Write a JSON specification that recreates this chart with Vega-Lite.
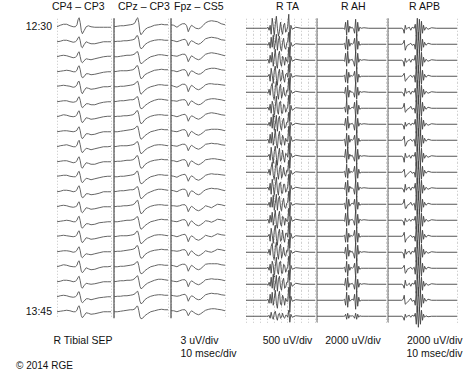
{
"$schema":"https://vega.github.io/schema/vega-lite/v6.json",
"padding":{"left":16,"top":1.25,"right":5,"bottom":3},
"datasets":{
"tgrid":[
{"c":"CP4","t":[0,6,12,18,24,30,34,37,39,41,43,45,47,50,54,58,63,70,78,86,94,100]},
{"c":"CPz","t":[0,6,12,18,24,30,35,39,42,44,46,48,50,53,57,62,68,75,82,88,94,100]},
{"c":"Fpz","t":[0,5,11,16,21,26,29,32,35,38,42,46,51,55,60,64,70,75,81,86,93,100]},
{"c":"TA","t":[0,30,32,33.5,35,36.5,38,39.5,41,42.5,44,45.5,47,48.5,50,51.5,53,54.5,56,57.5,59,60.5,62,63.5,65,67,72,80,100]},
{"c":"AH","t":[0,38,40,41.5,43,44.5,46,47.5,49,51,53,54.5,56,57.5,59,60.5,62,64,68,75,100]},
{"c":"APB","t":[0,20,22,23.5,25,26.5,28,31,33,35,38,39.5,41,42.5,44,45.5,47,48.5,50,51.5,53,55,58,63,70,100]}
],
"traces":[
{"c":"CP4","r":1,"lab":"12:30","v":[0,1.5,2.5,2.5,1,0,0,2,7,9,4,-4,-7,-4,0,1,0,-0.5,-0.5,-0.5,-0.5,-0.5]},
{"c":"CP4","r":2,"v":[0,0.5,1.5,1.5,0.5,-0.5,0,1.5,4,5,1,-5,-6,-3,0,-1,-2,-2,-1,0,0,0]},
{"c":"CP4","r":3,"v":[0,1,1.5,1,0,-1,-0.5,1,4,5,0,-5,-6,-4,-2,-2.5,-3,-2,-1,0,0.5,0.5]},
{"c":"CP4","r":4,"v":[0,0.5,1,1.5,1,0,0,1.5,5,6,2,-4,-6,-5,-2,-2,-3,-2.5,-1.5,-0.5,0,0]},
{"c":"CP4","r":5,"v":[0.5,1,1.5,1,0.5,-0.5,0,2,5,5.5,1,-5,-7,-4,-1,-1.5,-2.5,-2,-1,0,0,0.5]},
{"c":"CP4","r":6,"v":[0,0.5,1,1,0,-0.5,0,1,4,5,1.5,-4,-6,-4.5,-2,-2,-3,-3,-1.5,-0.5,0,0]},
{"c":"CP4","r":7,"v":[0,1,2,1.5,0.5,0,0.5,2,5,6,2,-4,-6,-4,-1,-1.5,-2.5,-2,-1,0,0.5,0.5]},
{"c":"CP4","r":8,"v":[0,0.5,1,1,0.5,0,0.5,1.5,4,5,1,-5,-7,-5,-2,-2,-3,-2.5,-1,0,0,0]},
{"c":"CP4","r":9,"v":[0,1,1.5,2,1,0,0,1.5,5,6.5,2,-4,-6,-4,-1.5,-2,-3,-2,-1,0,0,0.5]},
{"c":"CP4","r":10,"v":[0,0.5,1,1,0,-1,-0.5,1,4,5,1,-5,-6.5,-4,-1,-1.5,-2.5,-2.5,-1,0,0,0]},
{"c":"CP4","r":11,"v":[0.5,1,1.5,1.5,0.5,0,0,1.5,4.5,5.5,1.5,-4.5,-6,-4,-1.5,-2,-3,-2,-1,0,0.5,0.5]},
{"c":"CP4","r":12,"v":[0,0.5,1.5,1.5,1,0,0.5,2,5,6,2,-4,-6,-5,-2,-2,-3,-2.5,-1.5,0,0,0]},
{"c":"CP4","r":13,"v":[0,1,1.5,1,0,-0.5,0,1,4,5,1,-5,-6,-4,-1,-1.5,-2.5,-2,-1,0,0,0]},
{"c":"CP4","r":14,"v":[0,0.5,1,1.5,1,0,0,1.5,4.5,5.5,1,-5,-6.5,-4.5,-2,-2,-3,-2.5,-1,-0.5,0,0]},
{"c":"CP4","r":15,"v":[0.5,1,1.5,1,0.5,0,0.5,2,5,6,2,-4,-6,-4,-1,-1.5,-2.5,-2,-1,0,0.5,0.5]},
{"c":"CP4","r":16,"v":[0,0.5,1,1,0.5,-0.5,0,1.5,4,5,1,-5,-6,-4,-2,-2.5,-3,-2,-1,0,0,0]},
{"c":"CP4","r":17,"v":[0,1,2,1.5,0.5,0,0,1.5,5,6,1.5,-4.5,-6,-4,-1,-2,-3,-2.5,-1,0,0,0.5]},
{"c":"CP4","r":18,"v":[0,0.5,1.5,1.5,1,0,0.5,2,4.5,5.5,1,-5,-6.5,-4,-1.5,-2,-2.5,-2,-1,0,0,0]},
{"c":"CP4","r":19,"v":[0,1,1.5,1,0,-0.5,0,1.5,4.5,5,1,-4.5,-6,-4.5,-2,-2,-3,-2,-1,-0.5,0,0]},
{"c":"CP4","r":20,"lab":"13:45","v":[0,0.5,1,1.5,1,0,0,1.5,5,6,2,-4,-6,-4,-1,-1.5,-2.5,-2,-1,0,0,0]},
{"c":"CPz","r":1,"v":[0,0.5,1,1,1.5,2,2.5,4,8,9,4,-5,-8,-6,-3,-1,0,1.5,2,2.5,2,2]},
{"c":"CPz","r":2,"v":[0,0.5,0.5,1,1,1.5,2,3,6,6,2,-5,-7,-6,-3,-1,0.5,1.5,2,2,1.5,1.5]},
{"c":"CPz","r":3,"v":[0,0,0.5,1,1.5,1.5,2,3,5,5,1,-5,-7,-6,-4,-2,0,1,2,2,1.5,1]},
{"c":"CPz","r":4,"v":[0,0.5,1,1,1,1.5,2,3.5,6,6,2,-4,-7,-6,-3,-1.5,0,1.5,2,2.5,2,2]},
{"c":"CPz","r":5,"v":[0,0,0.5,0.5,1,1.5,2,3,5,5.5,1.5,-5,-7.5,-6,-3.5,-1.5,0,1,2,2,1.5,1.5]},
{"c":"CPz","r":6,"v":[0,0.5,1,1,1.5,2,2,3,5,5,1,-5,-7,-6.5,-4,-2,0,1.5,2.5,2.5,2,1.5]},
{"c":"CPz","r":7,"v":[0,0.5,0.5,1,1,1.5,2,3.5,6,6,2,-4.5,-7,-6,-3,-1,0.5,1.5,2,2,1.5,1.5]},
{"c":"CPz","r":8,"v":[0,0,0.5,1,1.5,2,2.5,3.5,5.5,5.5,1,-5,-7.5,-6.5,-4,-2,0,1,2,2.5,2,2]},
{"c":"CPz","r":9,"v":[0,0.5,1,1,1,1.5,2,3,5,5,1.5,-4.5,-7,-6,-3.5,-1.5,0,1.5,2,2,1.5,1]},
{"c":"CPz","r":10,"v":[0,0.5,0.5,1,1.5,1.5,2,3.5,6,6,2,-4,-6.5,-6,-3,-1,0.5,1.5,2,2.5,2,2]},
{"c":"CPz","r":11,"v":[0,0,0.5,0.5,1,1.5,2,3,5.5,5.5,1,-5,-7,-6.5,-4,-2,0,1,2,2,1.5,1.5]},
{"c":"CPz","r":12,"v":[0,0.5,1,1,1.5,2,2,3,5,5,1.5,-4.5,-7,-6,-3.5,-1.5,0,1.5,2.5,2.5,2,1.5]},
{"c":"CPz","r":13,"v":[0,0.5,0.5,1,1,1.5,2,3.5,6,6.5,2,-4,-7,-6,-3,-1,0.5,1.5,2,2,1.5,1.5]},
{"c":"CPz","r":14,"v":[0,0,0.5,1,1.5,1.5,2,3,5,5,1,-5,-7.5,-6.5,-4,-2,0,1,2,2.5,2,2]},
{"c":"CPz","r":15,"v":[0,0.5,1,1,1,1.5,2,3,5.5,5.5,1.5,-4.5,-7,-6,-3.5,-1.5,0,1.5,2,2,1.5,1]},
{"c":"CPz","r":16,"v":[0,0.5,0.5,1,1.5,2,2.5,3.5,6,6,2,-4,-6.5,-6,-3,-1,0.5,1.5,2,2.5,2,2]},
{"c":"CPz","r":17,"v":[0,0,0.5,0.5,1,1.5,2,3,5,5,1,-5,-7,-6.5,-4,-2,0,1,2,2,1.5,1.5]},
{"c":"CPz","r":18,"v":[0,0.5,1,1,1.5,1.5,2,3.5,5.5,6,1.5,-4.5,-7,-6,-3.5,-1.5,0,1.5,2.5,2.5,2,1.5]},
{"c":"CPz","r":19,"v":[0,0.5,0.5,1,1,1.5,2,3,5,5.5,1.5,-4.5,-7,-6,-3,-1,0.5,1.5,2,2,1.5,1.5]},
{"c":"CPz","r":20,"v":[0,0,0.5,1,1.5,2,2,3,5.5,5.5,1,-5,-7,-6.5,-4,-2,0,1,2,2.5,2,2]},
{"c":"Fpz","r":1,"v":[2,1.5,-0.5,1.5,3,3,1,-5,-1,1.5,0,-1.5,-2,-1,1.5,4,5.5,6,5.5,5,3,2]},
{"c":"Fpz","r":2,"v":[1.5,1,0,1,2,2.5,0.5,-4,-0.5,1,0,-1.5,-2.5,-1.5,1,3,4,4.5,4,3.5,2,1.5]},
{"c":"Fpz","r":3,"v":[1.5,1,0.5,1.5,2.5,2.5,0,-5,-1.5,1,-0.5,-2,-3,-2,0.5,2.5,3.5,4,3.5,3,2,1]},
{"c":"Fpz","r":4,"v":[1,1,0,1,2,2,0,-4.5,-1,1,0,-1.5,-2.5,-2,0,2,3,3.5,3.5,3,2,1.5]},
{"c":"Fpz","r":5,"v":[1.5,0.5,-0.5,1,2.5,2.5,0.5,-5,-1,1.5,0,-2,-3,-2,0,2,3,3,2.5,2.5,2,1.5]},
{"c":"Fpz","r":6,"v":[1,1,0.5,1.5,2,2,0,-4,-1,1,-0.5,-2,-3,-2.5,-0.5,1.5,2.5,3,3,2.5,2,1]},
{"c":"Fpz","r":7,"v":[1.5,1,0,1,2,2.5,0.5,-4.5,-1,1,0,-1.5,-2.5,-1.5,0.5,2.5,3.5,4,3.5,3,2,1.5]},
{"c":"Fpz","r":8,"v":[1,0.5,0,1,2,2,0,-5,-1.5,0.5,-1,-2.5,-3.5,-2.5,-0.5,1.5,2,2.5,2.5,2.5,2,1]},
{"c":"Fpz","r":9,"v":[1.5,1,0.5,1.5,2.5,2.5,0.5,-4,-0.5,1.5,0,-1.5,-2.5,-1.5,0.5,2.5,3,3.5,3,3,2,1.5]},
{"c":"Fpz","r":10,"v":[1,1,0,1,2,2,0,-5,-1,1,-0.5,-2,-3,-2,0,2,2.5,3,3,2.5,2,1]},
{"c":"Fpz","r":11,"v":[1,0.5,-0.5,1,2,2.5,0,-4.5,-1,1,-0.5,-2.5,-3.5,-2.5,-0.5,1.5,2.5,3,2.5,2.5,2,1.5]},
{"c":"Fpz","r":12,"v":[1.5,1,0,1.5,2.5,2.5,0.5,-5,-1,1,0,-2,-3,-2,0.5,2,3,3.5,3,3,2,1]},
{"c":"Fpz","r":13,"v":[1,1,0.5,1,2,2,0,-5,-1.5,0.5,-1,-3,-4,-3,-1,1,0,-1,1,2.5,2,1]},
{"c":"Fpz","r":14,"v":[1,0.5,0,1,2,2,0,-4.5,-1,1,-1,-3,-4,-3,-1,1,0.5,-0.5,1,2.5,2,1]},
{"c":"Fpz","r":15,"v":[1.5,1,0,1,2,2.5,0,-5,-1,1,-0.5,-2.5,-3.5,-2.5,-0.5,1.5,0.5,0,1.5,3,2,1.5]},
{"c":"Fpz","r":16,"v":[1,1,0.5,1,2,2,0,-4,-1,1,-1,-3,-4,-3,-1,1,0,-0.5,1,2.5,2,1]},
{"c":"Fpz","r":17,"v":[1.5,1,0,1.5,2.5,2.5,0.5,-4.5,-1,1.5,0,-2,-3,-2,0.5,2.5,3,3,3,3,2,1.5]},
{"c":"Fpz","r":18,"v":[1,0.5,0,1,2,2,0,-5,-1,1,-0.5,-2,-3,-2,0,2,2.5,3,2.5,2.5,2,1]},
{"c":"Fpz","r":19,"v":[1.5,1,0.5,1,2,2.5,0.5,-4.5,-1,1,0,-2,-3,-2.5,0,2,3,3.5,3,3,2,1.5]},
{"c":"Fpz","r":20,"v":[1,1,0,1,2,2,0,-4,-1,1,-0.5,-2,-3,-2,0,1.5,2.5,3,3,2.5,2,1]},
{"c":"TA","r":1,"v":[0,0,1,-2,3,-6,10,2,-8,4,12,0,-8,-3,6,-2,-6,3,5,-4,-2,2,14,-14,3,-1,1,0,0]},
{"c":"TA","r":2,"v":[0,0,-1,2,-4,7,-3,9,-5,1,10,-6,4,8,-4,-7,2,6,-3,-5,1,3,12,-13,2,-2,0.5,0,0]},
{"c":"TA","r":3,"v":[0,0,1,-3,5,-2,8,-6,3,11,-4,-8,5,9,-3,-6,4,2,-5,3,-1,-2,13,-12,4,-1,1,0,0]},
{"c":"TA","r":4,"v":[0,0,0,2,-5,8,1,-7,6,10,-2,-9,3,7,-5,-3,6,-2,-6,2,3,-1,12,-14,3,-1,0.5,0,0]},
{"c":"TA","r":5,"v":[0,0,-1,3,-3,6,9,-4,-8,5,11,-1,-7,4,8,-6,-2,5,-3,-4,2,1,14,-12,2,-1,1,0,0]},
{"c":"TA","r":6,"v":[0,0,1,-2,4,-5,7,3,-9,2,12,-3,-6,6,7,-5,-5,4,3,-4,-1,2,13,-13,3,-2,0.5,0,0]},
{"c":"TA","r":7,"v":[0,0,-1,2,-2,7,-4,10,-6,0,9,-7,5,8,-3,-6,3,6,-4,-3,2,2,12,-12,2,-1,1,0,0]},
{"c":"TA","r":8,"v":[0,0,1,-3,6,-3,8,-5,2,11,-3,-8,4,9,-4,-5,5,2,-5,2,-1,-1,14,-14,4,-1,0.5,0,0]},
{"c":"TA","r":9,"v":[0,0,0,2,-4,9,0,-7,5,10,-1,-9,2,8,-5,-3,6,-1,-6,3,2,-1,13,-12,3,-1,1,0,0]},
{"c":"TA","r":10,"v":[0,0,-1,3,-3,5,10,-3,-8,4,12,0,-7,3,7,-6,-3,5,-2,-4,2,1,12,-13,2,-2,0.5,0,0]},
{"c":"TA","r":11,"v":[0,0,1,-2,5,-6,9,2,-8,3,11,-2,-7,5,6,-5,-5,4,4,-4,-2,2,14,-13,3,-1,1,0,0]},
{"c":"TA","r":12,"v":[0,0,-1,2,-3,7,-3,9,-6,1,10,-6,5,8,-3,-7,2,6,-3,-4,1,2,13,-12,2,-1,0.5,0,0]},
{"c":"TA","r":13,"v":[0,0,1,-3,5,-2,8,-5,3,10,-4,-8,4,9,-4,-6,4,3,-5,2,-1,-1,12,-14,4,-1,1,0,0]},
{"c":"TA","r":14,"v":[0,0,0,2,-5,8,1,-7,6,11,-2,-9,3,7,-5,-4,6,-2,-6,3,3,-1,14,-12,3,-2,0.5,0,0]},
{"c":"TA","r":15,"v":[0,0,-1,3,-3,6,9,-4,-8,5,10,-1,-7,4,8,-6,-2,5,-3,-4,2,1,13,-13,2,-1,1,0,0]},
{"c":"TA","r":16,"v":[0,0,1,-2,4,-5,7,3,-9,2,11,-3,-6,6,7,-5,-5,4,3,-4,-1,2,12,-12,3,-1,0.5,0,0]},
{"c":"TA","r":17,"v":[0,0,-1,2,-2,7,-4,10,-6,0,9,-7,5,8,-3,-6,3,6,-4,-3,2,2,14,-14,2,-2,1,0,0]},
{"c":"TA","r":18,"v":[0,0,1,-3,6,-3,8,-5,2,10,-3,-8,4,9,-4,-5,5,2,-5,2,-1,-1,13,-12,4,-1,0.5,0,0]},
{"c":"TA","r":19,"v":[0,0,0,1,-2,4,-1,-3,3,5,-1,-4,2,3,-2,-1,3,-1,-2,1,1,-1,6,-6,2,-1,0.5,0,0]},
{"c":"AH","r":1,"v":[0,0,-1,6,-7,8,-4,2,0,1,-1,-5,9,-8,6,-3,1,0,0.5,0,0]},
{"c":"AH","r":2,"v":[0,0,1,-5,8,-6,5,-2,1,0,1,6,-9,10,-5,3,-1,0,0,0,0]},
{"c":"AH","r":3,"v":[0,0,-1,7,-6,9,-3,1,0,1,-2,-6,8,-9,7,-2,1,0,0.5,0,0]},
{"c":"AH","r":4,"v":[0,0,1,-6,7,-7,4,-1,1,0,1,5,-8,9,-6,2,-1,0,0,0,0]},
{"c":"AH","r":5,"v":[0,0,-1,5,-8,7,-5,2,0,0.5,-1,-5,10,-7,5,-3,1,0,0.5,0,0]},
{"c":"AH","r":6,"v":[0,0,1,-4,8,-6,3,-1,0,1,0,6,-9,8,-6,3,-1,0,0,0,0]},
{"c":"AH","r":7,"v":[0,0,-1,6,-6,8,-4,1,0,1,-1,-6,9,-9,6,-2,1,0,0.5,0,0]},
{"c":"AH","r":8,"v":[0,0,1,-6,7,-8,5,-2,1,0,1,5,-8,10,-5,2,-1,0,0,0,0]},
{"c":"AH","r":9,"v":[0,0,-1,7,-7,9,-3,2,0,1,-2,-5,9,-8,7,-3,1,0,0.5,0,0]},
{"c":"AH","r":10,"v":[0,0,1,-5,8,-6,4,-1,1,0,1,6,-10,9,-6,3,-1,0,0,0,0]},
{"c":"AH","r":11,"v":[0,0,-1,6,-8,8,-4,2,0,0.5,-1,-6,8,-9,6,-2,1,0,0.5,0,0]},
{"c":"AH","r":12,"v":[0,0,1,-5,7,-7,5,-2,0,1,0,5,-9,8,-5,2,-1,0,0,0,0]},
{"c":"AH","r":13,"v":[0,0,-1,7,-6,9,-5,1,0,1,-1,-5,10,-8,6,-3,1,0,0.5,0,0]},
{"c":"AH","r":14,"v":[0,0,1,-6,8,-6,3,-1,1,0,1,6,-8,9,-6,3,-1,0,0,0,0]},
{"c":"AH","r":15,"v":[0,0,-1,5,-7,8,-4,2,0,1,-2,-6,9,-9,7,-2,1,0,0.5,0,0]},
{"c":"AH","r":16,"v":[0,0,1,-4,7,-8,4,-2,1,0,1,5,-9,10,-5,2,-1,0,0,0,0]},
{"c":"AH","r":17,"v":[0,0,-1,6,-6,7,-3,1,0,1,-1,-5,8,-8,5,-3,1,0,0.5,0,0]},
{"c":"AH","r":18,"v":[0,0,1,-5,8,-7,5,-1,0,1,0,6,-9,9,-6,3,-1,0,0,0,0]},
{"c":"AH","r":19,"v":[0,0,0,2,-3,3,-2,1,0,0.5,0,-2,3,-3,2,-1,0.5,0,0,0,0]},
{"c":"APB","r":1,"v":[0,0,-1,-5,3,-1,0,1,-2,1,0,4,-8,10,-12,9,-10,7,-5,3,-2,1,-1,0.5,0,0]},
{"c":"APB","r":2,"v":[0,0,1,4,-6,-3,-1,0,1,-1,0,-5,9,-11,12,-9,10,-7,5,-3,2,-1,1,0,0,0]},
{"c":"APB","r":3,"v":[0,0,-1,-6,2,-2,-1,1,-2,1,0,5,-9,11,-13,10,-9,8,-6,3,-2,1,-1,0.5,0,0]},
{"c":"APB","r":4,"v":[0,0,1,3,-5,-4,-2,0,1,-1,1,-6,10,-12,11,-10,9,-8,6,-4,2,-1,1,0,0,0]},
{"c":"APB","r":5,"v":[0,0,-1,-4,4,-1,0,1,-2,1,0,4,-10,12,-12,11,-10,7,-5,3,-2,1,-1,0.5,0,0]},
{"c":"APB","r":6,"v":[0,0,1,5,-4,-3,-1,0,2,-1,0,-5,8,-10,13,-11,9,-8,6,-3,2,-1,1,0,0,0]},
{"c":"APB","r":7,"v":[0,0,-1,-5,2,-2,0,1,-1,1,0,5,-9,11,-12,10,-11,7,-5,4,-2,1,-1,0.5,0,0]},
{"c":"APB","r":8,"v":[0,0,1,4,-6,-4,-1,0,1,-1,1,-6,9,-11,12,-10,10,-7,5,-3,2,-1,1,0,0,0]},
{"c":"APB","r":9,"v":[0,0,-1,-6,3,-1,-1,1,-2,1,0,4,-10,12,-13,9,-9,8,-6,3,-2,1,-1,0.5,0,0]},
{"c":"APB","r":10,"v":[0,0,1,3,-5,-3,-2,0,1,-1,0,-5,10,-12,11,-11,9,-7,6,-4,2,-1,1,0,0,0]},
{"c":"APB","r":11,"v":[0,0,-1,-4,4,-2,0,1,-2,1,0,5,-8,10,-12,10,-10,8,-5,3,-2,1,-1,0.5,0,0]},
{"c":"APB","r":12,"v":[0,0,1,5,-4,-4,-1,0,2,-1,1,-6,9,-10,13,-10,10,-8,5,-3,2,-1,1,0,0,0]},
{"c":"APB","r":13,"v":[0,0,-1,-5,2,-1,-1,1,-1,1,0,4,-9,11,-12,11,-10,7,-6,4,-2,1,-1,0.5,0,0]},
{"c":"APB","r":14,"v":[0,0,1,4,-6,-3,-2,0,1,-1,0,-5,10,-12,12,-9,9,-7,6,-3,2,-1,1,0,0,0]},
{"c":"APB","r":15,"v":[0,0,-1,-6,3,-2,0,1,-2,1,0,5,-10,12,-13,10,-11,8,-5,3,-2,1,-1,0.5,0,0]},
{"c":"APB","r":16,"v":[0,0,1,3,-5,-4,-1,0,1,-1,1,-6,8,-11,11,-10,10,-8,5,-4,2,-1,1,0,0,0]},
{"c":"APB","r":17,"v":[0,0,-1,-4,4,-1,-1,1,-2,1,0,4,-9,10,-12,9,-9,7,-6,3,-2,1,-1,0.5,0,0]},
{"c":"APB","r":18,"v":[0,0,1,5,-4,-3,-2,0,2,-1,0,-5,9,-12,13,-11,10,-7,6,-3,2,-1,1,0,0,0]},
{"c":"APB","r":19,"v":[0,0,-1,-4,2,-1,0,1,-1,1,0,3,-8,10,-11,9,-8,6,-4,2,-1,0.5,-0.5,0,0,0]}
]
},
"data":{"name":"traces"},
"title":{"text":"© 2014 RGE","orient":"bottom","anchor":"start","baseline":"top","fontSize":10,"fontWeight":"normal","offset":2,"dx":-9.7,"color":"#111"},
"spacing":8,
"hconcat":[
{"spacing":0,"hconcat":[
{"transform":[{"filter":"datum.c == 'CP4'"},{"lookup":"c","from":{"data":{"name":"tgrid"},"key":"c","fields":["t"]}},{"flatten":["t","v"]}],
 "bounds":"flush",
 "title":{"text":"CP4 – CP3","offset":4.75,"frame":"group","anchor":"start","dx":-4},
 "spacing":0,
 "facet":{"row":{"field":"r","type":"ordinal","header":null}},
 "spec":{"width":56,"height":15,"layer":[
  {"mark":{"type":"line","stroke":"#666","strokeWidth":1,"strokeJoin":"round"},
   "encoding":{
    "x":{"field":"t","type":"quantitative","scale":{"domain":[0,100],"range":[1,55],"nice":false,"zero":false},"axis":{"values":[0,10,20,30,40,50,60,70,80,90,100],"labels":false,"ticks":false,"domain":false,"grid":true,"gridColor":"#c4c4c4","gridDash":[1,2],"title":"R Tibial SEP","titleX":26.5,"titleAlign":"center","titlePadding":17.4}},
    "y":{"field":"v","type":"quantitative","scale":{"domain":[-6.5,8.5],"nice":false,"zero":false},"axis":null}}},
  {"transform":[{"filter":"datum.t == 0 && isValid(datum.lab)"}],
   "mark":{"type":"text","align":"right","baseline":"middle","dx":-5,"fontSize":10.5,"color":"#111"},
   "encoding":{"x":{"datum":0,"type":"quantitative"},"y":{"datum":0,"type":"quantitative"},"text":{"field":"lab"}}}
 ]}},
{"transform":[{"filter":"datum.c == 'CPz'"},{"lookup":"c","from":{"data":{"name":"tgrid"},"key":"c","fields":["t"]}},{"flatten":["t","v"]}],
 "bounds":"flush",
 "title":{"text":"CPz – CP3","offset":4.75,"frame":"group","anchor":"start","dx":5},
 "spacing":0,
 "facet":{"row":{"field":"r","type":"ordinal","header":null}},
 "spec":{"width":56,"height":15,"layer":[
  {"mark":{"type":"line","stroke":"#666","strokeWidth":1,"strokeJoin":"round"},
   "encoding":{
    "x":{"field":"t","type":"quantitative","scale":{"domain":[0,100],"range":[1,55],"nice":false,"zero":false},"axis":{"values":[0,10,20,30,40,50,60,70,80,90,100],"labels":false,"ticks":false,"domain":false,"grid":true,"gridColor":"#c4c4c4","gridDash":[1,2],"title":null}},
    "y":{"field":"v","type":"quantitative","scale":{"domain":[-6.5,8.5],"nice":false,"zero":false},"axis":null}}},
  {"transform":[{"filter":"datum.t == 0"}],
   "mark":{"type":"rule","stroke":"#555","strokeWidth":1.3},
   "encoding":{"x":{"datum":0,"type":"quantitative"}}}
 ]}},
{"transform":[{"filter":"datum.c == 'Fpz'"},{"lookup":"c","from":{"data":{"name":"tgrid"},"key":"c","fields":["t"]}},{"flatten":["t","v"]}],
 "bounds":"flush",
 "title":{"text":"Fpz – CS5","offset":5.25,"frame":"group","anchor":"start","dx":4},
 "spacing":0,
 "facet":{"row":{"field":"r","type":"ordinal","header":null}},
 "spec":{"width":56,"height":15,"layer":[
  {"mark":{"type":"line","stroke":"#666","strokeWidth":1,"strokeJoin":"round"},
   "encoding":{
    "x":{"field":"t","type":"quantitative","scale":{"domain":[0,100],"range":[1,55],"nice":false,"zero":false},"axis":{"values":[0,10,20,30,40,50,60,70,80,90,100],"labels":false,"ticks":false,"domain":false,"grid":true,"gridColor":"#c4c4c4","gridDash":[1,2],"title":["3 uV/div","10 msec/div"],"titleAlign":"left","titleX":10,"titleLineHeight":13,"titlePadding":17.4}},
    "y":{"field":"v","type":"quantitative","scale":{"domain":[-6.5,8.5],"nice":false,"zero":false},"axis":null}}},
  {"transform":[{"filter":"datum.t == 0"}],
   "mark":{"type":"rule","stroke":"#555","strokeWidth":1.3},
   "encoding":{"x":{"datum":0,"type":"quantitative"}}}
 ]}}
]},
{"spacing":0,"hconcat":[
{"transform":[{"filter":"datum.c == 'TA'"},{"lookup":"c","from":{"data":{"name":"tgrid"},"key":"c","fields":["t"]}},{"flatten":["t","v"]}],
 "bounds":"flush",
 "title":{"text":"R TA","offset":1.25,"frame":"group","anchor":"start","dx":31},
 "spacing":0,
 "facet":{"row":{"field":"r","type":"ordinal","header":null}},
 "spec":{"width":71,"height":16,"layer":[
  {"mark":{"type":"line","stroke":"#444","strokeWidth":0.9,"strokeJoin":"round"},
   "encoding":{
    "x":{"field":"t","type":"quantitative","scale":{"domain":[0,100],"range":[1,70],"nice":false,"zero":false},"axis":{"values":[0,10,20,30,40,50,60,70,80,90,100],"labels":false,"ticks":false,"domain":false,"grid":true,"gridColor":"#c4c4c4","gridDash":[1,2],"title":"500 uV/div","titleX":42,"titleAlign":"center","titlePadding":13.4}},
    "y":{"field":"v","type":"quantitative","scale":{"domain":[-6,10],"nice":false,"zero":false},"axis":null}}}
 ]}},
{"transform":[{"filter":"datum.c == 'AH'"},{"lookup":"c","from":{"data":{"name":"tgrid"},"key":"c","fields":["t"]}},{"flatten":["t","v"]}],
 "bounds":"flush",
 "title":{"text":"R AH","offset":5.25,"frame":"group","anchor":"start","dx":25},
 "spacing":0,
 "facet":{"row":{"field":"r","type":"ordinal","header":null}},
 "spec":{"width":71,"height":16,"layer":[
  {"mark":{"type":"line","stroke":"#444","strokeWidth":0.9,"strokeJoin":"round"},
   "encoding":{
    "x":{"field":"t","type":"quantitative","scale":{"domain":[0,100],"range":[1,70],"nice":false,"zero":false},"axis":{"values":[0,10,20,30,40,50,60,70,80,90,100],"labels":false,"ticks":false,"domain":false,"grid":true,"gridColor":"#c4c4c4","gridDash":[1,2],"title":"2000 uV/div","titleX":36.5,"titleAlign":"center","titlePadding":13.4}},
    "y":{"field":"v","type":"quantitative","scale":{"domain":[-6,10],"nice":false,"zero":false},"axis":null}}},
  {"transform":[{"filter":"datum.t == 0"}],
   "mark":{"type":"rule","stroke":"#666","strokeWidth":1},
   "encoding":{"x":{"datum":0,"type":"quantitative"}}}
 ]}},
{"transform":[{"filter":"datum.c == 'APB'"},{"lookup":"c","from":{"data":{"name":"tgrid"},"key":"c","fields":["t"]}},{"flatten":["t","v"]}],
 "bounds":"flush",
 "title":{"text":"R APB","offset":5.25,"frame":"group","anchor":"start","dx":22},
 "spacing":0,
 "facet":{"row":{"field":"r","type":"ordinal","header":null}},
 "spec":{"width":71,"height":16,"layer":[
  {"mark":{"type":"line","stroke":"#444","strokeWidth":0.9,"strokeJoin":"round"},
   "encoding":{
    "x":{"field":"t","type":"quantitative","scale":{"domain":[0,100],"range":[1,70],"nice":false,"zero":false},"axis":{"values":[0,10,20,30,40,50,60,70,80,90,100],"labels":false,"ticks":false,"domain":false,"grid":true,"gridColor":"#c4c4c4","gridDash":[1,2],"title":["2000 uV/div","10 msec/div"],"titleAlign":"right","titleX":75,"titleLineHeight":13,"titlePadding":13.4}},
    "y":{"field":"v","type":"quantitative","scale":{"domain":[-6,10],"nice":false,"zero":false},"axis":null}}},
  {"transform":[{"filter":"datum.t == 0"}],
   "mark":{"type":"rule","stroke":"#666","strokeWidth":1},
   "encoding":{"x":{"datum":0,"type":"quantitative"}}}
 ]}}
]}
],
"config":{
 "view":{"stroke":null},
 "font":"Liberation Sans",
 "title":{"fontSize":10.5,"fontWeight":"normal","color":"#111"},
 "axis":{"titleFontSize":10.5,"titleFontWeight":"normal","titleColor":"#111"},
 "header":{"labelFontSize":10.5}
}
}
